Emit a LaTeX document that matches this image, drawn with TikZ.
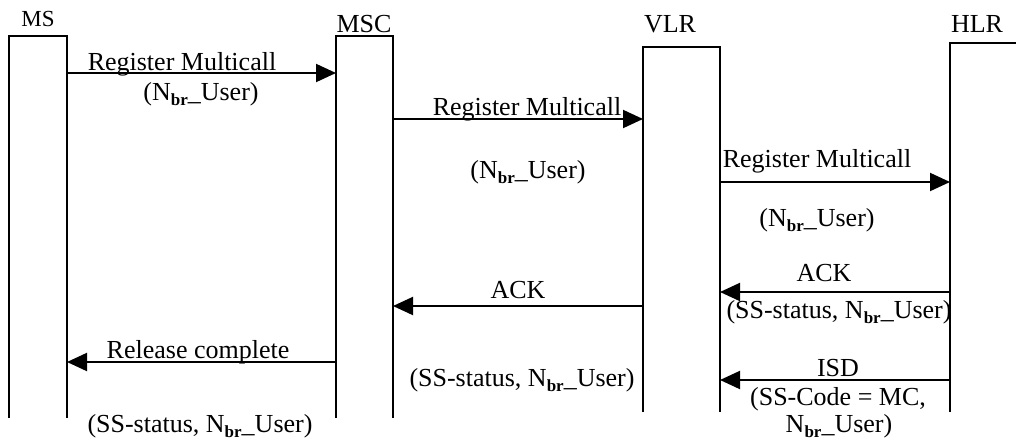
\documentclass[tikz,border=0pt]{standalone}
\usepackage{fontspec}
\setmainfont{Liberation Serif}
\usetikzlibrary{arrows.meta}
\newcommand{\nbrU}{N\raisebox{-5pt}{\fontsize{17}{17}\selectfont\bfseries br}\_User}
\begin{document}
\begin{tikzpicture}[x=1pt,y=-1pt,
  life/.style={line width=2pt},
  msg/.style={line width=2pt,-{Triangle[length=20pt,width=18pt]}},
  lbl/.style={anchor=base,inner sep=0pt,font=\fontsize{26}{31}\selectfont},
  ttl/.style={anchor=base,inner sep=0pt,font=\fontsize{26}{31}\selectfont},
  ttlsmall/.style={anchor=base,inner sep=0pt,font=\fontsize{23}{27}\selectfont}]
\clip (0,0) rectangle (1016,439);
% lifeline boxes (open at the bottom)
\draw[life] (9,418) -- (9,36) -- (67,36) -- (67,418);
\draw[life] (336,418) -- (336,36) -- (393,36) -- (393,418);
\draw[life] (643,412) -- (643,47) -- (720,47) -- (720,412);
\draw[life] (950,412) -- (950,43) -- (1030,43);
% titles
\node[ttlsmall] (tms) at (38,27) {MS};
\node[ttl] (tmsc) at (364,32) {MSC};
\node[ttl] (tvlr) at (670,32) {VLR};
\node[ttl] (thlr) at (977,32) {HLR};
% connector end points on the boxes
\coordinate (ms1) at (67,73);   \coordinate (msc1) at (336,73);
\coordinate (msc2) at (393,119); \coordinate (vlr2) at (643,119);
\coordinate (vlr3) at (720,182); \coordinate (hlr3) at (950,182);
\coordinate (hlr4) at (950,292); \coordinate (vlr4) at (720,292);
\coordinate (vlr5) at (643,306); \coordinate (msc5) at (393,306);
\coordinate (msc6) at (336,362); \coordinate (ms6) at (67,362);
\coordinate (hlr7) at (950,380); \coordinate (vlr7) at (720,380);
% messages
\draw[msg] (ms1) -- (msc1);
\draw[msg] (msc2) -- (vlr2);
\draw[msg] (vlr3) -- (hlr3);
\draw[msg] (hlr4) -- (vlr4);
\draw[msg] (vlr5) -- (msc5);
\draw[msg] (msc6) -- (ms6);
\draw[msg] (hlr7) -- (vlr7);
% labels
\node[lbl] (l1a) at (182,70) {Register Multicall};
\node[lbl] (l1b) at (201,100) {(\nbrU)};
\node[lbl] (l2a) at (527,115) {Register Multicall};
\node[lbl] (l2b) at (528,178) {(\nbrU)};
\node[lbl] (l3a) at (817,167) {Register Multicall};
\node[lbl] (l3b) at (817,226) {(\nbrU)};
\node[lbl] (l4a) at (824,281) {ACK};
\node[lbl] (l4b) at (839,318) {(SS-status, \nbrU)};
\node[lbl] (l5a) at (518,298) {ACK};
\node[lbl] (l5b) at (522,386) {(SS-status, \nbrU)};
\node[lbl] (l6a) at (198,358) {Release complete};
\node[lbl] (l6b) at (200,432) {(SS-status, \nbrU)};
\node[lbl] (l7a) at (838,376) {ISD};
\node[lbl] (l7b) at (838,405) {(SS-Code = MC,};
\node[lbl] (l7c) at (839,432) {\nbrU)};
\end{tikzpicture}
\end{document}
